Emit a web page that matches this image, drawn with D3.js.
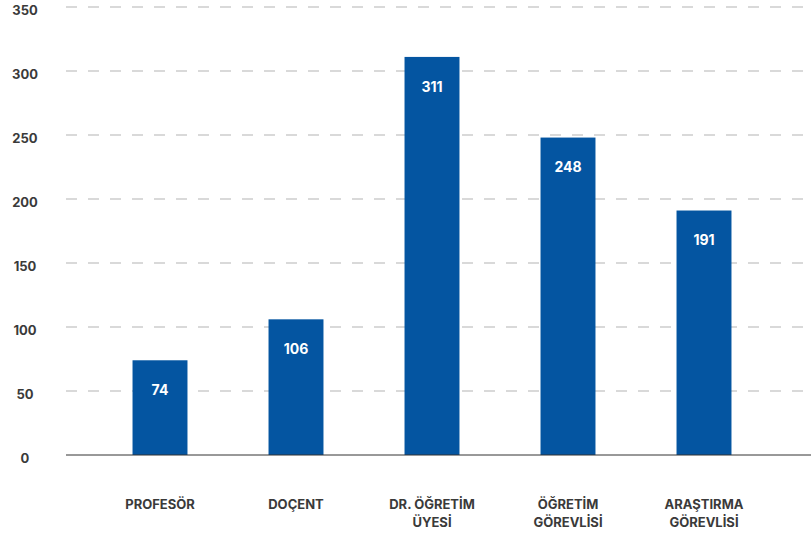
<!DOCTYPE html>
<html>
<head>
<meta charset="utf-8">
<script src="https://cdn.jsdelivr.net/npm/d3@7"></script>
<style>
  body { margin: 0; background: #fff; }
  svg { display: block; font-family: Inter, "Open Sans", sans-serif; }
</style>
</head>
<body>
<script>
var categories = [["PROFESÖR"], ["DOÇENT"], ["DR. ÖĞRETİM", "ÜYESİ"], ["ÖĞRETİM", "GÖREVLİSİ"], ["ARAŞTIRMA", "GÖREVLİSİ"]];
var values = [74, 106, 311, 248, 191];
var yTicks = [0, 50, 100, 150, 200, 250, 300, 350];

var width = 811, height = 536;
var svg = d3.select("body").append("svg")
    .attr("width", width)
    .attr("height", height);

var x = d3.scaleBand()
    .domain(d3.range(values.length))
    .range([92, 772])
    .paddingInner(0.596)
    .paddingOuter(0.298);

var y = d3.scaleLinear()
    .domain([0, 350])
    .range([455, 7]);

// grid lines
svg.append("g").selectAll("line")
    .data(yTicks.filter(function(d){ return d > 0; }))
    .enter().append("line")
    .attr("x1", 66).attr("x2", width)
    .attr("y1", function(d){ return y(d); })
    .attr("y2", function(d){ return y(d); })
    .attr("stroke", "#b3b3b3")
    .attr("stroke-width", 1)
    .attr("stroke-dasharray", "11,11");

// y tick labels
svg.append("g").selectAll("text")
    .data(yTicks)
    .enter().append("text")
    .attr("x", 25)
    .attr("y", function(d){ return y(d) + 3; })
    .attr("dy", "0.35em")
    .attr("text-anchor", "middle")
    .attr("font-size", 13)
    .attr("font-weight", 700)
    .attr("fill", "#3a3a3a")
    .text(function(d){ return d; });

// bars
svg.append("g").selectAll("rect")
    .data(values)
    .enter().append("rect")
    .attr("x", function(d, i){ return x(i); })
    .attr("width", x.bandwidth())
    .attr("y", function(d){ return y(d); })
    .attr("height", function(d){ return y(0) - y(d); })
    .attr("fill", "#0455a1");

// value labels
svg.append("g").selectAll("text")
    .data(values)
    .enter().append("text")
    .attr("x", function(d, i){ return x(i) + x.bandwidth() / 2; })
    .attr("y", function(d){ return y(d) + 30; })
    .attr("dy", "0.35em")
    .attr("text-anchor", "middle")
    .attr("font-size", 14)
    .attr("font-weight", 700)
    .attr("fill", "#fff")
    .text(function(d){ return d; });

// baseline
svg.append("line")
    .attr("x1", 66).attr("x2", width)
    .attr("y1", y(0)).attr("y2", y(0))
    .attr("stroke", "#333")
    .attr("stroke-width", 1);

// category labels
var cat = svg.append("g").selectAll("text")
    .data(categories)
    .enter().append("text")
    .attr("text-anchor", "middle")
    .attr("font-size", 13)
    .attr("font-weight", 700)
    .attr("fill", "#3a3a3a");

cat.selectAll("tspan")
    .data(function(d, i){ return d.map(function(t){ return {t: t, i: i}; }); })
    .enter().append("tspan")
    .attr("x", function(d){ return x(d.i) + x.bandwidth() / 2; })
    .attr("y", function(d, j){ return 504 + j * 18; })
    .attr("dy", "0.35em")
    .text(function(d){ return d.t; });
</script>
</body>
</html>
